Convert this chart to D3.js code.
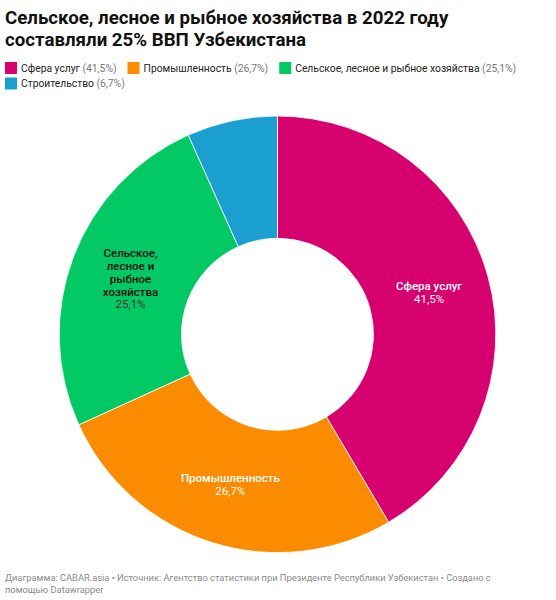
<!DOCTYPE html>
<html>
<head>
<meta charset="utf-8">
<script src="https://cdn.jsdelivr.net/npm/d3@7"></script>
<style>
  body { margin: 0; background: #fff; font-family: Roboto, sans-serif; }
</style>
</head>
<body>
<div id="chartArea"></div>
<script>
const categories = ["Сфера услуг", "Промышленность", "Сельское, лесное и рыбное хозяйства", "Строительство"];
const values = [41.5, 26.7, 25.1, 6.7];
const colors = ["#d6006e", "#fb8b00", "#03c964", "#1a9fd0"];
const titleLines = ["Сельское, лесное и рыбное хозяйства в 2022 году", "составляли 25% ВВП Узбекистана"];
const footer = "Диаграмма: CABAR.asia • Источник: Агентство статистики при Президенте Республики Узбекистан • Создано с помощью Datawrapper";

const width = 556, height = 600;
const fmt = v => String(v).replace(".", ",") + "%";

const svg = d3.select("#chartArea").append("svg")
  .attr("width", width)
  .attr("height", height)
  .style("font-family", "Roboto, sans-serif");

// title
svg.append("g").selectAll("text").data(titleLines).join("text")
  .attr("x", 5)
  .attr("y", (d, i) => 23.5 + i * 22)
  .attr("font-size", 18.7)
  .attr("font-weight", 700)
  .attr("fill", "#111")
  .text(d => d);

// legend, wrapped by hand
const legend = svg.append("g");
let lx = 5, ly = 68;
categories.forEach((c, i) => {
  const item = legend.append("g");
  item.append("rect").attr("width", 12).attr("height", 12).attr("y", -6).attr("fill", colors[i]);
  const t = item.append("text").attr("x", 16).attr("dy", "0.35em").attr("font-size", 10.3);
  t.append("tspan").attr("fill", "#222").text(c + " ");
  t.append("tspan").attr("fill", "#777").text("(" + fmt(values[i]) + ")");
  const w = 16 + t.node().getComputedTextLength() + 11;
  if (lx + w - 11 > width - 5 && lx > 5) { lx = 5; ly += 15.5; }
  item.attr("transform", `translate(${lx},${ly})`);
  lx += w;
});

// donut
const cx = 277.5, cy = 334.3, R = 218.3, r0 = 96;
const pie = d3.pie().sort(null).value(d => d.v);
const arcs = pie(categories.map((c, i) => ({ c, v: values[i], col: colors[i] })));
const arc = d3.arc().innerRadius(r0).outerRadius(R);
const g = svg.append("g").attr("transform", `translate(${cx},${cy})`);

g.selectAll("path").data(arcs).join("path")
  .attr("d", arc)
  .attr("fill", d => d.data.col)
  .attr("stroke", "#fff")
  .attr("stroke-width", 0.8);

function wrap(words, maxW, size) {
  const probe = svg.append("text").attr("font-size", size).attr("font-weight", 500);
  const lines = [];
  let cur = "";
  words.split(" ").forEach(w => {
    const test = cur ? cur + " " + w : w;
    probe.text(test);
    if (probe.node().getComputedTextLength() > maxW && cur) { lines.push(cur); cur = w; }
    else cur = test;
  });
  lines.push(cur);
  probe.remove();
  return lines;
}

const lh = 12.8;
const labels = g.selectAll("g.lbl").data(arcs.filter(d => d.data.v >= 10)).join("g")
  .attr("class", "lbl")
  .attr("transform", d => `translate(${arc.centroid(d)})`);

labels.each(function (d) {
  const lines = wrap(d.data.c, 72, 11.5);
  const dark = d.data.col === "#03c964";
  const n = lines.length + 1;
  const t = d3.select(this).append("text")
    .attr("text-anchor", "middle")
    .attr("font-size", 11.5)
    .attr("fill", dark ? "#111" : "#fff");
  lines.forEach((l, i) => {
    t.append("tspan").attr("x", 0)
      .attr("y", (i - (n - 1) / 2) * lh)
      .attr("dy", "0.35em")
      .attr("font-weight", 500)
      .text(l);
  });
  t.append("tspan").attr("x", 0)
    .attr("y", ((n - 1) - (n - 1) / 2) * lh)
    .attr("dy", "0.35em")
    .attr("fill", dark ? "#333" : "#fff")
    .text(fmt(d.data.v));
});

// footer
const ft = svg.append("text").attr("font-size", 9.3).attr("fill", "#8a8a8a");
const fw = footer.split(" ");
let line = [], fy = 581;
let span = ft.append("tspan").attr("x", 5).attr("y", fy);
fw.forEach(w => {
  line.push(w);
  span.text(line.join(" "));
  if (span.node().getComputedTextLength() > width - 48 && line.length > 1) {
    line.pop();
    span.text(line.join(" "));
    line = [w];
    fy += 11.5;
    span = ft.append("tspan").attr("x", 5).attr("y", fy).text(w);
  }
});
</script>
</body>
</html>
